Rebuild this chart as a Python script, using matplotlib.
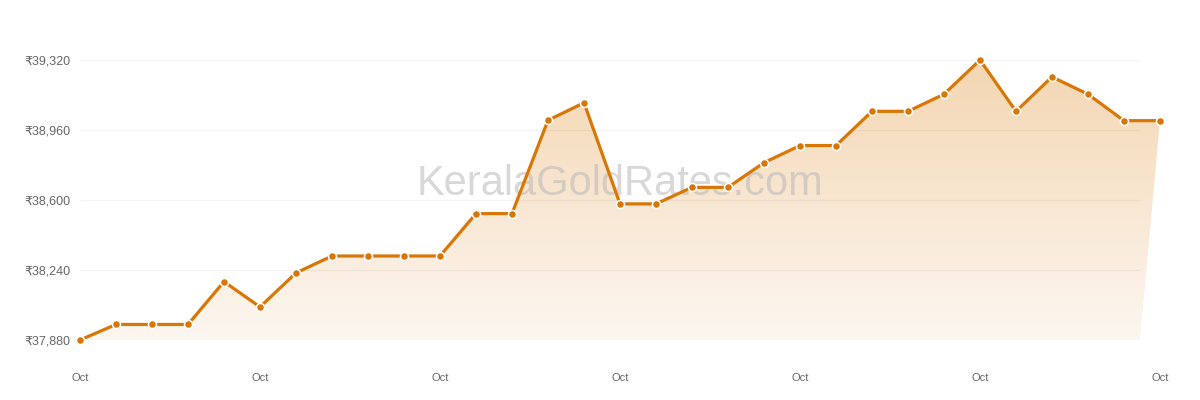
import numpy as np
import matplotlib
matplotlib.use("Agg")
import matplotlib.pyplot as plt
from matplotlib.patches import Polygon

plt.rcParams['font.family'] = ['Liberation Sans', 'DejaVu Sans']

days = list(range(1, 32))
prices = [37880, 37960, 37960, 37960, 38180, 38050, 38225, 38312, 38312, 38312,
          38312, 38530, 38530, 39010, 39100, 38580, 38580, 38665, 38665, 38792,
          38880, 38880, 39056, 39056, 39144, 39320, 39056, 39233, 39144, 39008,
          39008]
yticks = [37880, 38240, 38600, 38960, 39320]
xtick_days = [1, 6, 11, 16, 21, 26, 31]
xtick_labels = ["Oct"] * len(xtick_days)

W, H = 1200, 400
fig = plt.figure(figsize=(W / 100, H / 100), dpi=100)
ax = fig.add_axes([80 / W, 60 / H, 1080 / W, 280 / H])

x = np.array(days, dtype=float)
y = np.array(prices, dtype=float)
xmin, xmax = x[0], x[-1]
# plot area (grid & fill base) ends slightly before the last point
xend = x[0] + (x[-1] - x[0]) * 1060 / 1080
ymin, ymax = yticks[0], yticks[-1]

# gradient fill under line
verts = list(zip(x, y)) + [(xend, ymin), (xmin, ymin)]
poly = Polygon(verts, closed=True, facecolor='none', edgecolor='none',
               transform=ax.transData)
ax.add_patch(poly)
poly.set_clip_on(False)
top = np.array([244, 214, 178]) / 255
bot = np.array([253, 247, 241]) / 255
t = np.linspace(0, 1, 256)[:, None]
grad = (top[None, :] * (1 - t) + bot[None, :] * t)[:, None, :]
im = ax.imshow(grad, extent=[xmin, xmax, ymin, ymax], aspect='auto',
               origin='upper', zorder=1, interpolation='bilinear')
im.set_clip_path(poly)

# gridlines (drawn over the fill, very faint)
ax.hlines(yticks, xmin, xend, colors='black', alpha=0.045, lw=1, zorder=1.5)

# watermark
ax.text((xmin + xmax) / 2, 0.557, "KeralaGoldRates.com",
        transform=ax.get_xaxis_transform(),
        ha='center', va='center', fontsize=30, color='#b8b8b8', alpha=0.55,
        zorder=2)

ax.plot(x, y, color='#d97706', lw=2.3, zorder=4, clip_on=False,
        marker='o', markersize=5.8, markerfacecolor='#d97706',
        markeredgecolor='white', markeredgewidth=1.1)

ax.set_yticks(yticks)
ax.set_yticklabels([f"₹{v:,}" for v in yticks])
ax.set_xticks(xtick_days)
ax.set_xticklabels(xtick_labels)
ax.set_xlim(xmin, xmax)
ax.set_ylim(ymin, ymax)
ax.tick_params(axis='y', length=0, pad=7, labelsize=9, labelcolor='#666666')
ax.tick_params(axis='x', length=0, pad=24, labelsize=8, labelcolor='#666666')
ax.grid(False)
for s in ax.spines.values():
    s.set_visible(False)
ax.set_facecolor('white')

fig.savefig("out.png", dpi=100, facecolor='white')
